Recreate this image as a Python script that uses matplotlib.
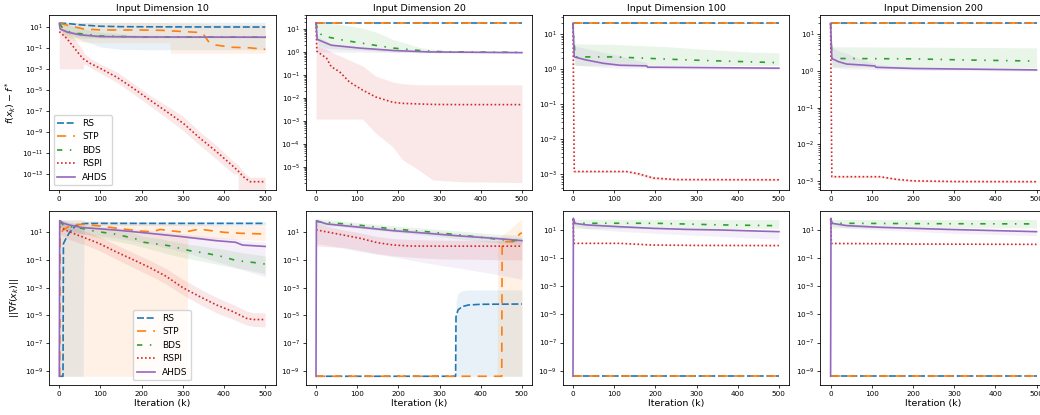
import matplotlib
matplotlib.use("Agg")
import matplotlib.pyplot as plt
import numpy as np

# ---------------- data: (iteration, mean, lower band, upper band) ----------------
METHODS = ["RS", "STP", "BDS", "RSPI", "AHDS"]
TITLES = ["Input Dimension 10", "Input Dimension 20", "Input Dimension 100", "Input Dimension 200"]
FL = 4e-10  # gradient floor value seen in the plots

# ---- f(x_k) - f*, dimension 10
F10_RS = [(0, 22, 18, 26), (20, 20, 3, 26), (50, 15, 0.6, 26), (100, 11, 0.12, 26),
          (150, 10, 0.07, 26), (200, 9.8, 0.065, 26), (300, 9.5, 0.065, 26), (500, 9.2, 0.065, 26)]
F10_STP = [(0, 20, 10, 25), (10, 17, 1.0, 25), (30, 11, 0.5, 25), (60, 6, 0.35, 25), (100, 4.9, 0.3, 25),
           (200, 4.8, 0.3, 25), (250, 4.5, 0.3, 25), (268, 4.1, 0.3, 22), (270, 4.0, 0.03, 22),
           (300, 3.5, 0.03, 22), (340, 2.8, 0.03, 22), (352, 1.5, 0.03, 20), (362, 0.4, 0.03, 18),
           (380, 0.18, 0.03, 16), (420, 0.11, 0.03, 16), (460, 0.1, 0.03, 16), (500, 0.07, 0.03, 16)]
F10_BDS = [(0, 20, 15, 25), (10, 6, 1.5, 20), (30, 2.6, 0.9, 12), (60, 2.0, 0.8, 6), (100, 1.3, 0.8, 3),
           (200, 1.05, 0.85, 1.5), (500, 1.0, 0.85, 1.3)]
F10_RSPI = [(0, 3.4, 1e-3, 10), (18, 0.79, 1e-3, 5), (34, 0.126, 1e-3, 1.0), (50, 0.0204, 1e-3, 0.15),
            (58, 9e-3, 1e-3, 0.05), (60, 8e-3, 3e-3, 0.03), (75, 3.3e-3, 1.3e-3, 1e-2),
            (99, 1.12e-3, 4e-4, 3e-3), (140, 1.55e-4, 5e-5, 5e-4), (180, 1.38e-5, 4e-6, 4e-5),
            (220, 1.07e-6, 3e-7, 3e-6), (261, 8.3e-8, 2e-8, 3e-7), (301, 6.6e-9, 1.3e-9, 3e-8),
            (342, 2.45e-10, 5e-11, 1e-9), (382, 1.32e-11, 2.5e-12, 5e-11), (423, 5e-13, 1e-13, 1.6e-12),
            (434, 2e-13, 1e-13, 8e-13), (435, 1.8e-13, 1e-15, 7e-13), (447, 5.5e-14, 1e-15, 1.6e-13),
            (463, 1.86e-14, 1e-15, 5e-14), (500, 1.86e-14, 1e-15, 5e-14)]
F10_AHDS = [(0, 20, 15, 25), (2, 6, 4, 9), (20, 3.0, 2, 4.5), (50, 1.7, 1.2, 2.5), (100, 1.15, 0.95, 1.4),
            (200, 1.05, 0.95, 1.15), (500, 1.0, 0.95, 1.08)]

# ---- f(x_k) - f*, dimension 20
F20_RS = [(0, 18.5, 18, 19), (500, 18.5, 18, 19)]
F20_STP = [(0, 18.5, 18, 19), (500, 18.5, 18, 19)]
F20_BDS = [(0, 19, 15, 20), (5, 7, 2, 20), (22, 4.8, 1.5, 19), (71, 3.2, 1.3, 15), (115, 2.4, 1.2, 11),
           (150, 1.9, 1.1, 7), (188, 1.5, 1.0, 3.5), (252, 1.17, 1.0, 1.6), (300, 1.05, 0.95, 1.2),
           (400, 1.0, 0.93, 1.1), (500, 0.98, 0.93, 1.05)]
F20_RSPI = [(0, 19, 1.2e-3, 20), (2, 1.1, 1.2e-3, 2), (26, 0.53, 1.2e-3, 1.3), (37, 0.23, 1.2e-3, 1.0),
            (57, 0.14, 1.2e-3, 0.7), (81, 0.05, 1.2e-3, 0.45), (113, 0.022, 1.2e-3, 0.25),
            (145, 0.011, 2.9e-4, 0.09), (186, 6.5e-3, 7.4e-5, 0.05), (210, 5.8e-3, 2e-5, 0.042),
            (243, 5.5e-3, 8.5e-6, 0.038), (284, 5.2e-3, 2.6e-6, 0.037), (349, 5.1e-3, 2.2e-6, 0.037),
            (500, 5.1e-3, 2e-6, 0.037)]
F20_AHDS = [(0, 19, 15, 20), (3, 3.6, 1.0, 5), (37, 2.0, 1.0, 2.3), (106, 1.5, 1.0, 1.6),
            (190, 1.17, 0.97, 1.25), (272, 1.02, 0.92, 1.08), (500, 0.95, 0.9, 1.0)]

# ---- f(x_k) - f*, dimension 100
F100_RS = [(0, 20, 19.5, 20.5), (500, 20, 19.5, 20.5)]
F100_STP = [(0, 20, 19.5, 20.5), (500, 20, 19.5, 20.5)]
F100_BDS = [(0, 20, 15, 20), (5, 2.2, 1.25, 5.2), (100, 2.2, 1.25, 5.0), (230, 1.9, 1.25, 4.3),
            (295, 1.78, 1.25, 3.8), (376, 1.66, 1.25, 3.3), (441, 1.58, 1.25, 3.0), (500, 1.5, 1.25, 2.9)]
F100_RSPI = [(0, 20, 15, 20), (3, 1.17e-3, 1.1e-3, 1.25e-3), (130, 1.17e-3, 1.1e-3, 1.25e-3),
             (160, 1.0e-3, 9e-4, 1.1e-3), (195, 7.6e-4, 6.9e-4, 8.5e-4), (250, 6.9e-4, 6.4e-4, 7.4e-4),
             (500, 6.8e-4, 6.3e-4, 7.3e-4)]
F100_AHDS = [(0, 20, 15, 20), (3, 2.2, 1.3, 4.5), (32, 1.8, 1.2, 3.8), (73, 1.45, 1.1, 3.0),
             (114, 1.27, 1.05, 2.4), (179, 1.22, 1.05, 1.5), (181, 1.12, 1.0, 1.2), (276, 1.1, 0.98, 1.15),
             (500, 1.05, 0.95, 1.12)]

# ---- f(x_k) - f*, dimension 200
F200_RS = [(0, 20, 19.5, 20.5), (500, 20, 19.5, 20.5)]
F200_STP = [(0, 20, 19.5, 20.5), (500, 20, 19.5, 20.5)]
F200_BDS = [(0, 20, 15, 20), (3, 2.2, 1.3, 4.6), (200, 2.15, 1.25, 4.5), (330, 2.0, 1.22, 4.4),
            (500, 1.87, 1.2, 4.3)]
F200_RSPI = [(0, 20, 15, 20), (3, 1.3e-3, 1.22e-3, 1.38e-3), (120, 1.3e-3, 1.22e-3, 1.38e-3),
             (160, 1.1e-3, 1.03e-3, 1.17e-3), (200, 1.0e-3, 9.4e-4, 1.06e-3), (300, 9.6e-4, 9e-4, 1.02e-3),
             (500, 9.5e-4, 8.9e-4, 1.01e-3)]
F200_AHDS = [(0, 20, 15, 20), (3, 2.2, 1.25, 4.5), (19, 1.8, 1.2, 3.6), (39, 1.55, 1.15, 3.0),
             (80, 1.45, 1.12, 2.0), (108, 1.37, 1.1, 1.6), (110, 1.26, 1.08, 1.5), (202, 1.17, 1.05, 1.3),
             (324, 1.13, 1.02, 1.22), (500, 1.07, 1.0, 1.15)]

# ---- ||grad f(x_k)||, dimension 10
G10_RS = [(0, FL, FL, 80), (9, FL, FL, 80), (10, 1.5, FL, 80), (15, 3, FL, 80), (25, 10, FL, 80),
          (40, 30, FL, 80), (50, 40, FL, 80), (58, 42, FL, 75), (60, 43, 30, 60), (100, 44, 30, 60),
          (500, 44, 30, 60)]
G10_STP = [(0, FL, FL, 80), (1, FL, FL, 80), (2, 8, FL, 80), (10, 15, FL, 80), (30, 35, FL, 80),
           (60, 38, FL, 75), (100, 28, FL, 70), (150, 18, FL, 60), (200, 12, FL, 50), (225, 11, FL, 48),
           (245, 16, FL, 45), (270, 13, FL, 43), (290, 11, FL, 40), (310, 11, FL, 40), (312, 11.5, 3.5, 40),
           (340, 17, 3.5, 38), (370, 13, 3.5, 35), (400, 10, 3.5, 32), (440, 8.5, 3.0, 30),
           (500, 7.5, 2.5, 28)]
G10_BDS = [(0, 60, 30, 80), (10, 35, 15, 70), (30, 25, 10, 50), (55, 19, 8, 40), (80, 13, 5, 30),
           (115, 9, 3, 20), (140, 7, 2.2, 15), (185, 3.4, 1.2, 8), (205, 1.9, 0.8, 5), (245, 1.35, 0.4, 3.5),
           (268, 1.05, 0.25, 2.5), (317, 0.47, 0.12, 1.3), (358, 0.3, 0.07, 0.9), (398, 0.17, 0.04, 0.6),
           (430, 0.09, 0.025, 0.4), (455, 0.075, 0.02, 0.3), (488, 0.058, 0.012, 0.22), (500, 0.05, 0.01, 0.2)]
G10_RSPI = [(0, 25, 8, 60), (24, 11, 3, 30), (55, 4.8, 1.5, 15), (96, 1.6, 0.5, 5), (137, 0.4, 0.12, 1.3),
            (178, 0.11, 0.03, 0.35), (218, 0.03, 8e-3, 0.1), (258, 7e-3, 2e-3, 0.025), (300, 1e-3, 3e-4, 4e-3),
            (342, 2.2e-4, 6e-5, 8e-4), (382, 5.6e-5, 1.5e-5, 2e-4), (423, 1.8e-5, 5e-6, 6e-5),
            (455, 6e-6, 2e-6, 2e-5), (470, 5e-6, 1.6e-6, 1.6e-5), (500, 5e-6, 1.5e-6, 1.5e-5)]
G10_AHDS = [(0, FL, FL, FL), (1, 70, 30, 80), (10, 45, 20, 70), (24, 34, 14, 50), (55, 22, 8, 35),
            (137, 14.6, 4, 22), (218, 8.5, 1.5, 14), (299, 4.8, 0.4, 8), (380, 2.5, 0.08, 4.5),
            (428, 1.9, 0.03, 3.5), (445, 1.2, 0.02, 2.5), (500, 0.95, 0.006, 2)]

# ---- ||grad f(x_k)||, dimension 20
G20_RS = [(0, FL, FL, FL), (339, FL, FL, FL), (340, 8e-6, FL, 1e-4), (345, 2.5e-5, FL, 4e-4),
          (355, 4.3e-5, FL, 6e-4), (370, 5.6e-5, FL, 6.8e-4), (400, 6.3e-5, FL, 6.8e-4), (500, 6.6e-5, FL, 6.8e-4)]
G20_STP = [(0, FL, FL, FL), (440, FL, FL, FL), (441, FL, FL, 3), (451, FL, FL, 6), (452, 2.1, FL, 6),
           (470, 2.1, FL, 15), (480, 2.1, FL, 30), (488, 4.8, FL, 50), (497, 8.5, FL, 80), (500, 9, FL, 80)]
G20_BDS = [(0, 60, 35, 100), (51, 45, 27, 70), (100, 34, 20, 50), (150, 23, 14, 37), (198, 16.6, 10, 28),
           (271, 11, 6, 19), (353, 6.3, 3.2, 12), (434, 3.3, 1.8, 7.5), (475, 2.5, 1.4, 6.5), (500, 2.6, 1.3, 6)]
G20_RSPI = [(0, 15, 1.0, 40), (67, 6.3, 0.8, 15), (107, 3.7, 0.5, 9), (148, 1.8, 0.28, 5), (188, 1.2, 0.2, 3.5),
            (229, 1.02, 0.16, 3.0), (300, 1.0, 0.12, 2.7), (500, 1.0, 0.1, 2.5)]
G20_AHDS = [(0, FL, FL, FL), (1, 69, 1.5, 90), (26, 40, 1.2, 55), (107, 23, 0.4, 35), (188, 13, 0.17, 19),
            (269, 8.5, 0.06, 13), (350, 5.4, 0.025, 8.5), (431, 3.7, 0.01, 5.5), (500, 2.5, 0.004, 4)]

# ---- ||grad f(x_k)||, dimension 100
G100_RS = [(0, FL, FL, FL), (500, FL, FL, FL)]
G100_STP = [(0, FL, FL, FL), (500, FL, FL, FL)]
G100_BDS = [(0, 60, 30, 70), (5, 30, 13, 58), (200, 30, 13, 58), (357, 23, 13, 56), (500, 20, 13, 55)]
G100_RSPI = [(0, 60, 50, 65), (2, 1.12, 1.07, 1.17), (114, 1.12, 1.07, 1.17), (195, 0.85, 0.81, 0.89),
             (300, 0.8, 0.76, 0.84), (500, 0.78, 0.74, 0.82)]
G100_AHDS = [(0, FL, FL, FL), (1, 68, 40, 70), (3, 30, 20, 34), (32, 23, 12, 26), (114, 17, 8, 20),
             (195, 13, 6, 16), (276, 11, 4.5, 13), (357, 10, 3.5, 11.5), (500, 7.6, 2.2, 9)]

# ---- ||grad f(x_k)||, dimension 200
G200_RS = [(0, FL, FL, FL), (500, FL, FL, FL)]
G200_STP = [(0, FL, FL, FL), (500, FL, FL, FL)]
G200_BDS = [(0, 60, 30, 70), (3, 30, 14, 55), (250, 28, 14, 55), (500, 27, 14, 55)]
G200_RSPI = [(0, 60, 50, 65), (2, 1.1, 1.05, 1.15), (150, 1.05, 1.0, 1.1), (200, 1.0, 0.95, 1.05),
             (500, 0.95, 0.9, 1.0)]
G200_AHDS = [(0, FL, FL, FL), (1, 68, 40, 70), (3, 30, 20, 35), (39, 20.4, 14, 26), (120, 15.5, 10, 20),
             (202, 13, 8, 16), (283, 11, 6, 13), (500, 7.6, 4, 9)]

TOP = [[F10_RS, F10_STP, F10_BDS, F10_RSPI, F10_AHDS],
       [F20_RS, F20_STP, F20_BDS, F20_RSPI, F20_AHDS],
       [F100_RS, F100_STP, F100_BDS, F100_RSPI, F100_AHDS],
       [F200_RS, F200_STP, F200_BDS, F200_RSPI, F200_AHDS]]
BOTTOM = [[G10_RS, G10_STP, G10_BDS, G10_RSPI, G10_AHDS],
          [G20_RS, G20_STP, G20_BDS, G20_RSPI, G20_AHDS],
          [G100_RS, G100_STP, G100_BDS, G100_RSPI, G100_AHDS],
          [G200_RS, G200_STP, G200_BDS, G200_RSPI, G200_AHDS]]

# ---------------- styling ----------------
COLORS = ["#1f77b4", "#ff7f0e", "#2ca02c", "#d62728", "#9467bd"]
STYLES = [(0, (4.2, 1.6)), (0, (5.5, 4.2)), (0, (3.2, 4.5, 0.9, 4.5)), (0, (1, 1.4)), "-"]
LW = 1.2

TOP_YLIM = [(-14.52, 2.11), (-6.02, 1.62), (-3.46, 1.54), (-3.25, 1.53)]
BOT_YLIM = [(-10.03, 2.56), (-10.03, 2.56), (-10.02, 2.37), (-10.02, 2.37)]
TOP_TICKS = [range(1, -14, -2), range(1, -6, -1), range(1, -4, -1), range(1, -4, -1)]
BOT_TICKS = [range(1, -10, -2)] * 4

W, H = 1040, 415
fig = plt.figure(figsize=(W / 100, H / 100), dpi=100)
col_left = [49, 305.7, 562.7, 820.3]
ax_w = 226.5
rows = [(15, 190), (210.7, 385)]

plt.rcParams["font.family"] = "DejaVu Sans"


def draw(ax, series, ylim, yticks):
    for name, data, c, ls in zip(METHODS, series, COLORS, STYLES):
        it = [d[0] for d in data]
        mean = [d[1] for d in data]
        lo = [d[2] for d in data]
        hi = [d[3] for d in data]
        ax.fill_between(it, lo, hi, color=c, alpha=0.1, linewidth=0)
        ax.plot(it, mean, color=c, linestyle=ls, linewidth=LW, label=name)
    ax.set_yscale("log")
    ax.set_xlim(-25, 525)
    ax.set_ylim(10.0 ** ylim[0], 10.0 ** ylim[1])
    ax.set_yticks([10.0 ** k for k in yticks])
    ax.set_xticks([0, 100, 200, 300, 400, 500])
    ax.tick_params(axis="both", which="major", labelsize=5.2, length=2.4, width=0.55, pad=1.8)
    ax.tick_params(axis="both", which="minor", length=1.4, width=0.45)
    for s in ax.spines.values():
        s.set_linewidth(0.6)


axes = []
for r, (ytop, ybot) in enumerate(rows):
    for cidx in range(4):
        rect = [col_left[cidx] / W, 1 - ybot / H, ax_w / W, (ybot - ytop) / H]
        ax = fig.add_axes(rect)
        if r == 0:
            draw(ax, TOP[cidx], TOP_YLIM[cidx], TOP_TICKS[cidx])
            ax.set_title(TITLES[cidx], fontsize=6.8, pad=3)
        else:
            draw(ax, BOTTOM[cidx], BOT_YLIM[cidx], BOT_TICKS[cidx])
            ax.set_xlabel("Iteration (k)", fontsize=6.8, labelpad=1.5)
        axes.append(ax)

axes[0].set_ylabel(r"$f(x_k) - f^*$", fontsize=6.8, labelpad=3)
axes[4].set_ylabel(r"$||\nabla f(x_k)||$", fontsize=6.8, labelpad=3)
axes[0].legend(loc="lower left", fontsize=6.5)
axes[4].legend(loc="lower center", fontsize=6.5)

fig.savefig("out.png", dpi=100)
